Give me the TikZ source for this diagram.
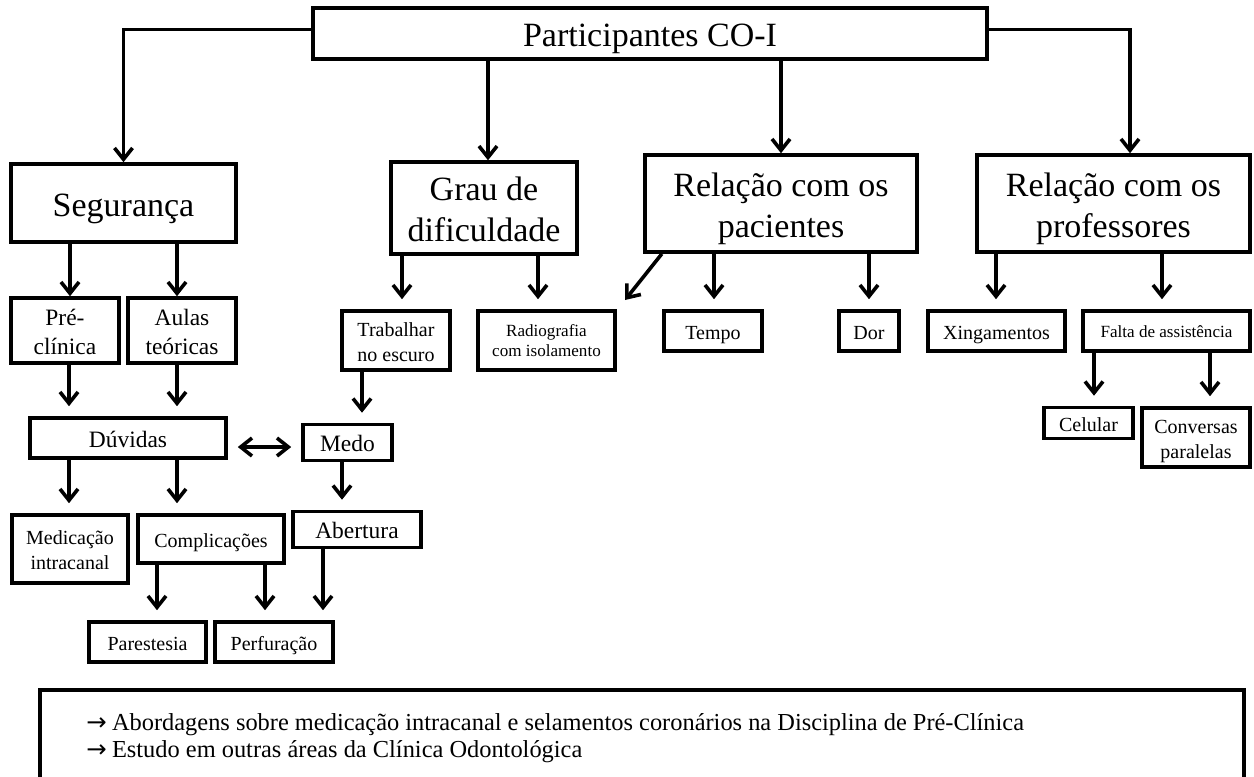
\documentclass[tikz,border=0pt]{standalone}
\usepackage{fontspec}
\setmainfont{Liberation Serif}
\newfontfamily\arrowfont{DejaVu Sans}
\usetikzlibrary{arrows.meta}
\newcommand{\tstrut}{\rule{0pt}{0.94\baselineskip}}
\newcommand{\bx}[7]{\node[box,#6,minimum width={(#4-#2)*0.75pt},minimum height={(#5-#3)*0.75pt}] (#1) at ({(#2+#4)/2},{(#3+#5)/2}) {\tstrut #7\strut};}
\begin{document}
\begin{tikzpicture}[x=0.75pt,y=-0.75pt,
 box/.style={draw, line width=2.7pt, inner sep=0pt, align=center},
 big/.style={font=\fontsize{25.5}{30.75}\selectfont},
 med/.style={font=\fontsize{17.6}{21.75}\selectfont},
 sml/.style={font=\fontsize{15}{18.75}\selectfont},
 tny/.style={font=\fontsize{12.8}{15}\selectfont},
 note/.style={font=\fontsize{18.3}{20.25}\selectfont, anchor=west, inner sep=0pt},
 barb/.tip={Straight Barb[length=8.5pt,width=13.5pt]},
 arr/.style={line width=2.7pt, -barb},
 gap/.style={shorten >=7.5pt}]
\fill[white] (0,0) rectangle (1254,776);
\useasboundingbox (0,0) rectangle (1254,776);
% boxes
\bx{top}{313}{9}{987}{58}{big}{Participantes CO-I}
\bx{seg}{11}{164}{236}{242}{big}{Segurança}
\bx{grau}{391}{164}{577}{252}{big}{Grau de\\dificuldade}
\bx{pac}{645}{155}{917}{252}{big}{Relação com os\\pacientes}
\bx{prof}{977}{155}{1250}{252}{big}{Relação com os\\professores}
\bx{pre}{11}{301}{119}{360}{med}{Pré-\\clínica}
\bx{aulas}{128}{301}{236}{360}{med}{Aulas\\teóricas}
\bx{trab}{342}{311}{450}{370}{sml}{Trabalhar\\no escuro}
\bx{radio}{478}{311}{615}{370}{tny}{Radiografia\\com isolamento}
\bx{tempo}{664}{311}{762}{351}{sml}{Tempo}
\bx{dor}{839}{311}{899}{351}{sml}{Dor}
\bx{xing}{928}{311}{1065}{351}{sml}{Xingamentos}
\bx{falta}{1083}{311}{1250}{351}{tny}{Falta de assistência}
\bx{cel}{1044}{408}{1133}{438}{sml}{Celular}
\bx{conv}{1142}{408}{1250}{467}{sml}{Conversas\\paralelas}
\bx{duv}{30}{418}{226}{458}{med}{Dúvidas}
\bx{medo}{303}{427}{392}{458}{med}{Medo}
\bx{med}{12}{515}{128}{583}{sml}{Medicação\\intracanal}
\bx{comp}{138}{515}{284}{563}{sml}{Complicações}
\bx{abert}{293}{515}{421}{544}{med}{Abertura}
\bx{par}{89}{622}{206}{662}{sml}{Parestesia}
\bx{perf}{215}{622}{333}{662}{sml}{Perfuração}
% connectors
\draw[arr] ([yshift=3pt]top.west) -| (seg.north);
\draw[arr] (top.south -| 488,0) -- (grau.north -| 488,0);
\draw[arr] (top.south -| pac.north) -- (pac.north);
\draw[arr] ([yshift=3pt]top.east) -| (prof.north -| 1130,0);
\draw[arr] (seg.south -| 70,0) -- (pre.north -| 70,0);
\draw[arr] (seg.south -| 177,0) -- (aulas.north -| 177,0);
\draw[arr,gap] (grau.south -| 402,0) -- (trab.north -| 402,0);
\draw[arr,gap] (grau.south -| 538,0) -- (radio.north -| 538,0);
\coordinate (diagtip) at (625,300);
\draw[arr] ([xshift=14pt]pac.south west) -- (diagtip);
\draw[arr,gap] (pac.south -| 714,0) -- (tempo.north -| 714,0);
\draw[arr,gap] (pac.south -| 869,0) -- (dor.north -| 869,0);
\draw[arr,gap] (prof.south -| 996,0) -- (xing.north -| 996,0);
\draw[arr,gap] (prof.south -| 1162,0) -- (falta.north -| 1162,0);
\draw[arr,gap] (falta.south -| 1094,0) -- (cel.north -| 1094,0);
\draw[arr,gap] (falta.south -| 1210,0) -- (conv.north -| 1210,0);
\draw[arr,gap] (pre.south -| 69,0) -- (duv.north -| 69,0);
\draw[arr,gap] (aulas.south -| 177,0) -- (duv.north -| 177,0);
\draw[arr,gap] (trab.south -| 362,0) -- (medo.north -| 362,0);
\draw[line width=2.7pt, barb-barb, shorten <=7.5pt, shorten >=7.5pt] (duv.east |- 0,447) -- (medo.west |- 0,447);
\draw[arr,gap] (duv.south -| 69,0) -- (med.north -| 69,0);
\draw[arr,gap] (duv.south -| 177,0) -- (comp.north -| 177,0);
\draw[arr,gap] (medo.south -| 342,0) -- (abert.north -| 342,0);
\draw[arr,gap] (comp.south -| 157,0) -- (par.north -| 157,0);
\draw[arr,gap] (comp.south -| 265,0) -- (perf.north -| 265,0);
\draw[arr,gap] (abert.south -| 323,0) -- (perf.north -| 323,0);
% bottom box
\draw[line width=2.7pt] (40,790) -- (40,690) -- (1244,690) -- (1244,790);
\node[note] (n1) at (86,725) {{\arrowfont →}\hspace{4pt}Abordagens sobre medicação intracanal e selamentos coronários na Disciplina de Pré-Clínica};
\node[note] (n2) at (86,752) {{\arrowfont →}\hspace{4pt}Estudo em outras áreas da Clínica Odontológica};
\end{tikzpicture}
\end{document}
